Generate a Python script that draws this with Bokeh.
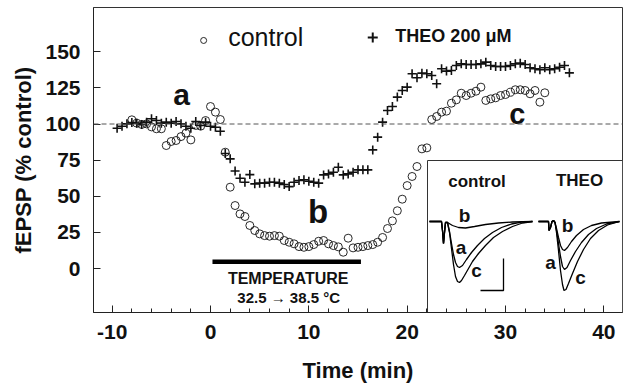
from bokeh.plotting import figure
from bokeh.models import Range1d, FixedTicker, Span
from bokeh.core.properties import value
from bokeh.embed import file_html
from bokeh.resources import INLINE

FONT = "Liberation Sans"

# ---------------- data ----------------
control_time = [-8.0, -7.5, -7.0, -6.5, -6.0, -5.5, -5.0, -4.5, -4.0, -3.5, -3.0, -2.5, -2.0, -1.5, -1.0, -0.5,
                0.0, 0.5, 1.0, 1.5, 2.0, 2.5, 3.0, 3.5, 4.0, 4.5, 5.0, 5.5, 6.0, 6.5, 7.0, 7.5, 8.0, 8.5,
                9.0, 9.5, 10.0, 10.5, 11.0, 11.5, 12.0, 12.5, 13.0, 13.5, 14.0, 14.5, 15.0, 15.5, 16.0, 16.5,
                17.0, 17.5, 18.0, 18.5, 19.0, 19.5, 20.0, 20.5, 21.0, 21.5, 22.0, 22.5, 23.0, 23.5, 24.0, 24.5,
                25.0, 25.5, 26.0, 26.5, 27.0, 27.5, 28.0, 28.5, 29.0, 29.5, 30.0, 30.5, 31.0, 31.5, 32.0, 32.5,
                33.0, 33.5, 34.0]
control_pct = [102.9, 100.6, 99.7, 100.1, 98.0, 96.7, 96.7, 85.1, 87.9, 88.6, 91.3, 93.7, 89.0, 99.0, 98.5, 102.4,
               112.1, 108.2, 103.1, 80.5, 56.3, 43.6, 37.8, 36.0, 29.8, 26.3, 24.0, 22.8, 22.4, 22.8, 22.4, 19.4, 18.2, 17.1,
               15.2, 14.7, 15.2, 16.6, 18.9, 19.4, 17.1, 15.9, 15.0, 11.3, 21.0, 14.3, 14.7, 15.2, 15.9, 16.6,
               18.2, 21.5, 27.7, 33.0, 40.0, 48.0, 57.4, 63.7, 70.6, 82.8, 83.5, 103.1, 105.2, 108.2, 108.9, 114.4,
               116.7, 121.3, 119.7, 121.3, 122.7, 125.5, 116.3, 117.4, 118.1, 119.7, 120.4, 122.0, 123.7, 123.7, 123.2, 120.9,
               123.2, 115.1, 121.6]

theo_time = [-9.5, -9.0, -8.5, -8.0, -7.5, -7.0, -6.5, -6.0, -5.5, -5.0, -4.5, -4.0, -3.5, -3.0, -2.5, -2.0,
             -1.5, -1.0, -0.5, 0.0, 0.5, 1.0, 1.5, 2.0, 2.5, 3.0, 3.5, 4.0, 4.5, 5.0, 5.5, 6.0, 6.5, 7.0,
             7.5, 8.0, 8.5, 9.0, 9.5, 10.0, 10.5, 11.0, 11.5, 12.0, 12.5, 13.0, 13.5, 14.0, 14.5, 15.0, 15.5,
             16.0, 16.5, 17.0, 17.5, 18.0, 18.5, 19.0, 19.5, 20.0, 20.5, 21.0, 21.5, 22.0, 22.5, 23.0, 23.5,
             24.0, 24.5, 25.0, 25.5, 26.0, 26.5, 27.0, 27.5, 28.0, 28.5, 29.0, 29.5, 30.0, 30.5, 31.0, 31.5,
             32.0, 32.5, 33.0, 33.5, 34.0, 34.5, 35.0, 35.5, 36.0, 36.5]
theo_pct = [97.1, 98.5, 100.1, 101.0, 100.6, 99.7, 101.3, 103.6, 102.4, 100.6, 101.3, 100.6, 101.7, 100.1, 98.5, 97.1,
            101.7, 99.0, 101.3, 98.5, 97.8, 95.0, 79.6, 75.9, 67.5, 62.5, 59.7, 65.0, 58.6, 59.1, 59.1, 59.7, 59.7, 59.1,
            58.1, 56.7, 59.7, 60.9, 61.4, 60.4, 59.7, 59.1, 64.8, 65.5, 66.6, 70.1, 64.8, 65.5, 66.6, 68.3, 68.3,
            68.3, 82.1, 90.9, 101.3, 109.3, 112.1, 118.6, 123.2, 125.5, 134.8, 132.0, 135.2, 134.8, 133.6, 127.8, 138.2,
            136.6, 137.0, 140.5, 141.6, 141.2, 141.2, 141.2, 141.6, 142.8, 140.5, 139.8, 139.8, 139.8, 140.5, 141.6, 142.1,
            141.2, 138.9, 138.2, 137.5, 138.9, 137.5, 138.2, 139.3, 140.5, 135.4]

x_ticks = [-10, 0, 10, 20, 30, 40]
x_tick_labels = {-10: "-10", 0: "0", 10: "10", 20: "20", 30: "30", 40: "40"}
x_minor = [-10, -8, -6, -4, -2, 0, 2, 4, 6, 8, 10, 12, 14, 16, 18, 20, 22, 24, 26, 28, 30, 32, 34, 36, 38, 40]
y_ticks = [0, 25, 50, 75, 100, 125, 150]

baseline_pct = 100
temp_start, temp_end = 0.2, 15.3

# inset traces (inset pixel units: dx from inset left, dy from inset bottom)
ctl_c_x = [2, 14, 15, 16, 17, 18, 20, 22, 24, 26, 28, 30, 32, 34, 37, 41, 45, 51, 58, 66, 75, 85, 95, 105]
ctl_c_y = [91, 91, 82, 69, 80, 90, 90, 80, 64, 48, 36, 31, 30, 32, 37, 44, 51, 59, 67, 75, 81, 86, 89.5, 91]
ctl_a_x = [2, 14, 15, 16, 17, 18, 20, 22, 24, 26, 28, 30, 32, 35, 39, 44, 50, 57, 65, 74, 84, 94, 105]
ctl_a_y = [91, 91, 82, 69, 80, 90, 90, 81, 69, 58, 50, 46, 45, 47, 53, 60, 67, 74, 80, 85, 88.5, 90.3, 91]
ctl_b_x = [2, 14, 15, 16, 17, 18, 20, 25, 31, 38, 47, 58, 71, 85, 105]
ctl_b_y = [91, 91, 82, 69, 80, 90, 90, 87, 85, 84.5, 86, 88, 89.5, 90.5, 91]

theo_c_x = [111, 121, 121.5, 123, 124.5, 126, 127.5, 129, 131, 133, 135, 136.5, 138.5, 141, 145, 150, 156, 163, 171, 180, 192]
theo_c_y = [91, 91, 82, 85, 91, 92, 90, 80, 62, 42, 28, 22, 23, 29, 39, 51, 63, 74, 82, 87.5, 91]
theo_a_x = [111, 121, 121.5, 123, 124.5, 126, 127.5, 129, 131, 133, 135, 137, 139.5, 143, 148, 154, 161, 169, 179, 192]
theo_a_y = [91, 91, 82, 85, 91, 92, 90, 82, 69, 56, 46, 43, 45, 52, 61, 70, 78, 84, 88.5, 91]
theo_b_x = [111, 121, 121.5, 123, 124.5, 126, 127.5, 129, 131, 133, 135, 137, 140, 144, 149, 156, 164, 174, 192]
theo_b_y = [91, 91, 82, 85, 91, 92, 90, 84, 75, 67, 63, 62, 65, 71, 77, 83, 87, 89.5, 91]

# ---------------- figure ----------------
p = figure(width=627, height=392,
           x_range=Range1d(-11.9, 41.9), y_range=Range1d(-30.4, 180.6),
           output_backend="svg", toolbar_location=None,
           min_border_left=93, min_border_right=5, min_border_top=7, min_border_bottom=80)
p.extra_x_ranges = {"ix": Range1d(-334, 195)}
p.extra_y_ranges = {"iy": Range1d(0, 305)}

p.background_fill_color = "white"
p.border_fill_color = "white"
p.outline_line_color = "#333333"
p.outline_line_width = 1
p.xgrid.grid_line_color = None
p.ygrid.grid_line_color = None

p.xaxis.ticker = FixedTicker(ticks=x_ticks, minor_ticks=x_minor)
p.xaxis.major_label_overrides = x_tick_labels
p.yaxis.ticker = FixedTicker(ticks=y_ticks)
for ax in (p.xaxis[0], p.yaxis[0]):
    ax.axis_line_color = "#222222"
    ax.major_tick_line_color = "#222222"
    ax.minor_tick_line_color = "#222222"
    ax.major_tick_in = 7
    ax.major_tick_out = 0
    ax.minor_tick_in = 4
    ax.minor_tick_out = 0
    ax.major_label_text_font = FONT
    ax.major_label_text_font_style = "bold"
    ax.major_label_text_font_size = "21px"
    ax.major_label_text_color = "#111111"
    ax.axis_label_text_font = FONT
    ax.axis_label_text_font_style = "bold"
    ax.axis_label_text_font_size = "22px"
    ax.axis_label_text_color = "#111111"
p.yaxis.minor_tick_line_color = None
p.xaxis.axis_label = "Time (min)"
p.yaxis.axis_label = "fEPSP (% control)"
p.xaxis.major_label_standoff = 12
p.xaxis.axis_label_standoff = 16
p.yaxis.major_label_standoff = 13
p.yaxis.axis_label_standoff = 6

p.add_layout(Span(location=baseline_pct, dimension="width", line_dash="5 3",
                  line_color="#555555", line_width=1))

# data
p.scatter(control_time, control_pct, marker="circle", size=8, fill_color=None,
          line_color="#111111", line_width=0.9)
p.scatter(theo_time, theo_pct, marker="cross", size=9, line_color="#111111", line_width=1.6)

# temperature bar
p.segment(x0=[temp_start], y0=[4.7], x1=[temp_end], y1=[4.7], line_width=4.5, line_color="black")
p.text(x=[7.9], y=[-6.9], text=["TEMPERATURE"], text_font=value(FONT), text_font_style="bold",
       text_font_size="16px", text_align="center", text_baseline="alphabetic", text_color="#111111")
p.text(x=[7.95], y=[-20.0], text=["32.5 \u2192 38.5 \u00b0C"], text_font=value(FONT), text_font_style="bold",
       text_font_size="15px", text_align="center", text_baseline="alphabetic", text_color="#111111")

# legend
p.scatter(x=[-0.7], y=[157.8], marker="circle", size=6, fill_color=None, line_color="#111111", line_width=0.9)
p.text(x=[1.8], y=[160.5], text=["control"], text_font=value(FONT), text_font_size="25px",
       text_align="left", text_baseline="alphabetic", text_color="#111111")
p.scatter(x=[16.5], y=[159.9], marker="cross", size=10, line_color="#111111", line_width=2)
p.text(x=[18.8], y=[160.6], text=["THEO 200 \u03bcM"], text_font=value(FONT), text_font_style="bold",
       text_font_size="18px", text_align="left", text_baseline="alphabetic", text_color="#111111")

# phase letters
p.text(x=[-2.95], y=[120.4], text=["a"], text_font=value(FONT), text_font_style="bold",
       text_font_size="30px", text_align="center", text_baseline="alphabetic", text_color="#111111")
p.text(x=[10.94], y=[39.4], text=["b"], text_font=value(FONT), text_font_style="bold",
       text_font_size="33px", text_align="center", text_baseline="alphabetic", text_color="#111111")
p.text(x=[31.2], y=[107.2], text=["c"], text_font=value(FONT), text_font_style="bold",
       text_font_size="29px", text_align="center", text_baseline="alphabetic", text_color="#111111")

# inset
p.quad(left=[0], right=[195], bottom=[0], top=[152], x_range_name="ix", y_range_name="iy",
       fill_color="white", line_color="#333333", line_width=1)
for xs, ys in ((ctl_c_x, ctl_c_y), (ctl_a_x, ctl_a_y), (ctl_b_x, ctl_b_y),
               (theo_c_x, theo_c_y), (theo_a_x, theo_a_y), (theo_b_x, theo_b_y)):
    p.line(xs, ys, x_range_name="ix", y_range_name="iy", line_color="black", line_width=1.3)
p.line([53, 76, 76], [22, 22, 54], x_range_name="ix", y_range_name="iy", line_color="black", line_width=1.3)
p.text(x=[49.5, 152], y=[131, 132], text=["control", "THEO"], x_range_name="ix", y_range_name="iy",
       text_font=value(FONT), text_font_style="bold", text_font_size="17px",
       text_align="center", text_baseline="alphabetic", text_color="#111111")
p.text(x=[37, 33.5, 49, 140, 123, 153], y=[97, 65, 42, 87, 50, 35],
       text=["b", "a", "c", "b", "a", "c"], x_range_name="ix", y_range_name="iy",
       text_font=value(FONT), text_font_style="bold", text_font_size="19px",
       text_align="center", text_baseline="alphabetic", text_color="#111111")

open("out.html", "w").write(file_html(p, INLINE))
